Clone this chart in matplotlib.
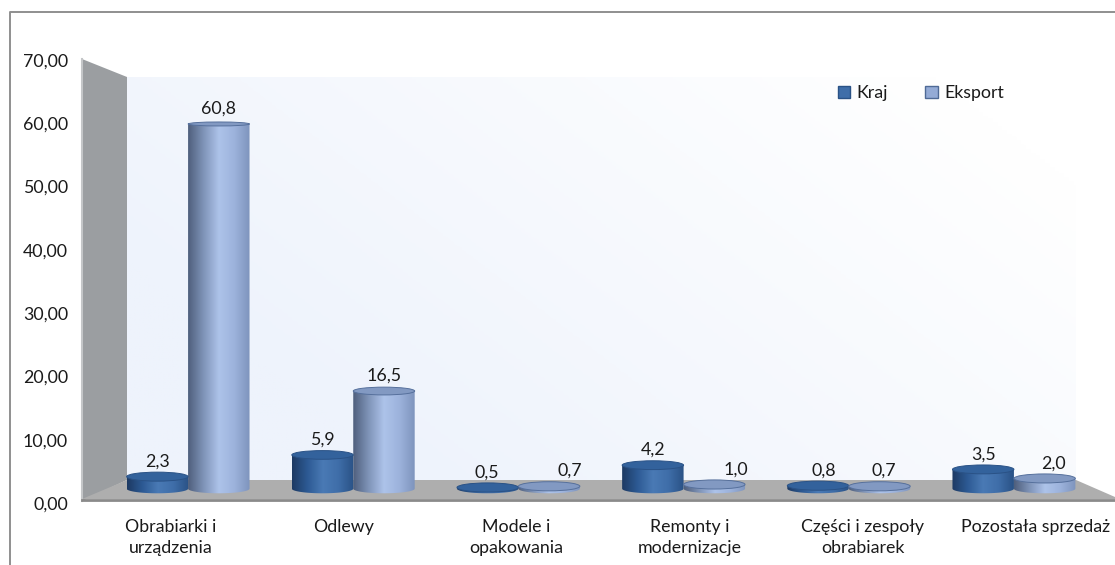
import matplotlib
matplotlib.use('Agg')
import numpy as np
import matplotlib.pyplot as plt
from matplotlib.colors import LinearSegmentedColormap
from matplotlib.patches import Ellipse, PathPatch, Patch, Polygon
from matplotlib.path import Path

plt.rcParams['font.family'] = ['Lato', 'DejaVu Sans']

# Data
categories = ['Obrabiarki i\nurządzenia', 'Odlewy', 'Modele i\nopakowania',
              'Remonty i\nmodernizacje', 'Części i zespoły\nobrabiarek', 'Pozostała sprzedaż']
kraj = [2.3, 5.9, 0.5, 4.2, 0.8, 3.5]
eksport = [60.8, 16.5, 0.7, 1.0, 0.7, 2.0]
y_ticks = [0, 10, 20, 30, 40, 50, 60, 70]

W, H = 1115, 565
TEXT = '#1a1a1a'
FONT = 12.8
BAR_W = 0.372

fig = plt.figure(figsize=(W / 100, H / 100), dpi=100, facecolor='white')


def px_axes(left, right, top, bottom, **kw):
    """Axes placed by pixel box (y measured from the top of the image)."""
    return fig.add_axes([left / W, 1 - bottom / H, (right - left) / W, (bottom - top) / H], **kw)


# Chart frame, walls and floor, in image pixels
bg = px_axes(0, W, 0, H, zorder=0)
bg.axis('off')
bg.plot([9.5, 9.5, W], [H, 12, 12], color='#8f8f8f', lw=1.4, clip_on=False)

wall_cmap = LinearSegmentedColormap.from_list('wall', ['#ffffff', '#eef3fc'])
xx, yy = np.meshgrid(np.linspace(0, 1, 200), np.linspace(0, 1, 200))
wall = np.clip((1.05 - xx) * 0.9 + (yy - 0.35) * 0.5, 0, 1)
bg.imshow(wall, cmap=wall_cmap, vmin=0, vmax=1, extent=(127, 1076, 480, 77),
          aspect='auto', zorder=1)
bg.set_xlim(0, W)
bg.set_ylim(H, 0)
bg.add_patch(Polygon([(82, 59), (127, 77), (127, 480), (82, 501)], fc='#9b9ea1', ec='none', zorder=2))
bg.plot([82, 82], [59, 501], color='#c4c6c8', lw=1.5, zorder=3)
bg.add_patch(Polygon([(82, 499), (127, 480), (1076, 480), (1115, 497), (1115, 499)],
                     fc='#aeaeae', ec='none', zorder=2))
bg.plot([82, W], [500, 500], color='#8a8a8a', lw=2, zorder=3)

# Mid-depth plane: bars live here
PX_PER_UNIT = 6.03
BAR_LEFT, BAR_RIGHT = 105.5, 1096.5
ax = px_axes(BAR_LEFT, BAR_RIGHT, 68.5, 490.5 + 3 * PX_PER_UNIT, zorder=2)
ax.patch.set_alpha(0)
ax.axis('off')

kraj_cmap = LinearSegmentedColormap.from_list(
    'kraj', ['#1d3a63', '#2d5a94', '#4a7ab5', '#3f6ea9', '#2a5286'])
eksport_cmap = LinearSegmentedColormap.from_list(
    'eksport', ['#4f5f7d', '#7f94b8', '#adc3ea', '#9db3dc', '#7e94bd'])


def cap_radius(value):
    # flatter ellipse the closer the top comes to eye level
    return (4.6 - 3.0 * value / 70) / PX_PER_UNIT


def draw_cylinder(x0, value, cmap, cap_color, edge_color):
    r0 = 4.6 / PX_PER_UNIT
    x1 = x0 + BAR_W
    cx = (x0 + x1) / 2
    t = np.linspace(np.pi, 2 * np.pi, 40)
    low_x = cx + BAR_W / 2 * np.cos(t)
    low_y = r0 * np.sin(t) + 0.3
    verts = [(x0, value)] + list(zip(low_x, low_y)) + [(x1, value), (x0, value)]
    shape = PathPatch(Path(verts), fc='none', ec='none', transform=ax.transData)
    ax.add_patch(shape)
    im = ax.imshow(np.linspace(0, 1, 128).reshape(1, -1), cmap=cmap, aspect='auto',
                   extent=(x0, x1, -3, value), zorder=3)
    im.set_clip_path(shape)
    ax.add_patch(Ellipse((cx, value), BAR_W, 2 * cap_radius(value), fc=cap_color,
                         ec=edge_color, lw=0.7, zorder=4))


for i in range(len(categories)):
    draw_cylinder(i + 0.5 - BAR_W, kraj[i], kraj_cmap, '#33629c', '#2a5286')
    draw_cylinder(i + 0.5, eksport[i], eksport_cmap, '#8299c2', '#56709c')

ax.set_xlim(0, len(categories))
ax.set_ylim(-3, 70)

# Data labels
for i in range(len(categories)):
    for value, side, nudge in ((kraj[i], -BAR_W / 2, [0, 0, -1, 0, 6, 0][i]),
                               (eksport[i], BAR_W / 2, [0, 0, 21, 22, 4, 9][i])):
        ax.annotate(f'{value:.1f}'.replace('.', ','), (i + 0.5 + side, value),
                    xytext=(nudge * 0.72, 11), textcoords='offset points',
                    ha='center', va='center', fontsize=FONT, color=TEXT, zorder=6,
                    annotation_clip=False)

ax.legend(handles=[Patch(fc='#3f6ea9', ec='#2a5286', label='Kraj'),
                   Patch(fc='#94abd6', ec='#4f6a96', label='Eksport')],
          ncol=2, frameon=False, fontsize=FONT, labelcolor=TEXT,
          loc='center left',
          bbox_to_anchor=((829 - BAR_LEFT) / 991, (490.5 + 18 - 93) / (490.5 + 18 - 68.5)),
          handlelength=0.7, handleheight=0.7, handletextpad=0.35, columnspacing=2.1, borderpad=0)

# Front plane: value and category axes
front = px_axes(84, 1122, 60, 503, zorder=3)
front.patch.set_alpha(0)
front.set_xlim(0, len(categories))
front.set_ylim(0, 70)
for spine in front.spines.values():
    spine.set_visible(False)
front.set_yticks(y_ticks)
front.set_yticklabels([f'{v},00' for v in y_ticks])
front.set_xticks(np.arange(len(categories)) + 0.5)
front.set_xticklabels(categories, linespacing=1.42)
front.tick_params(axis='both', length=0, labelsize=FONT, labelcolor=TEXT)
front.tick_params(axis='y', pad=11.5)
front.tick_params(axis='x', pad=11.5)

fig.savefig('out.png', dpi=100)
